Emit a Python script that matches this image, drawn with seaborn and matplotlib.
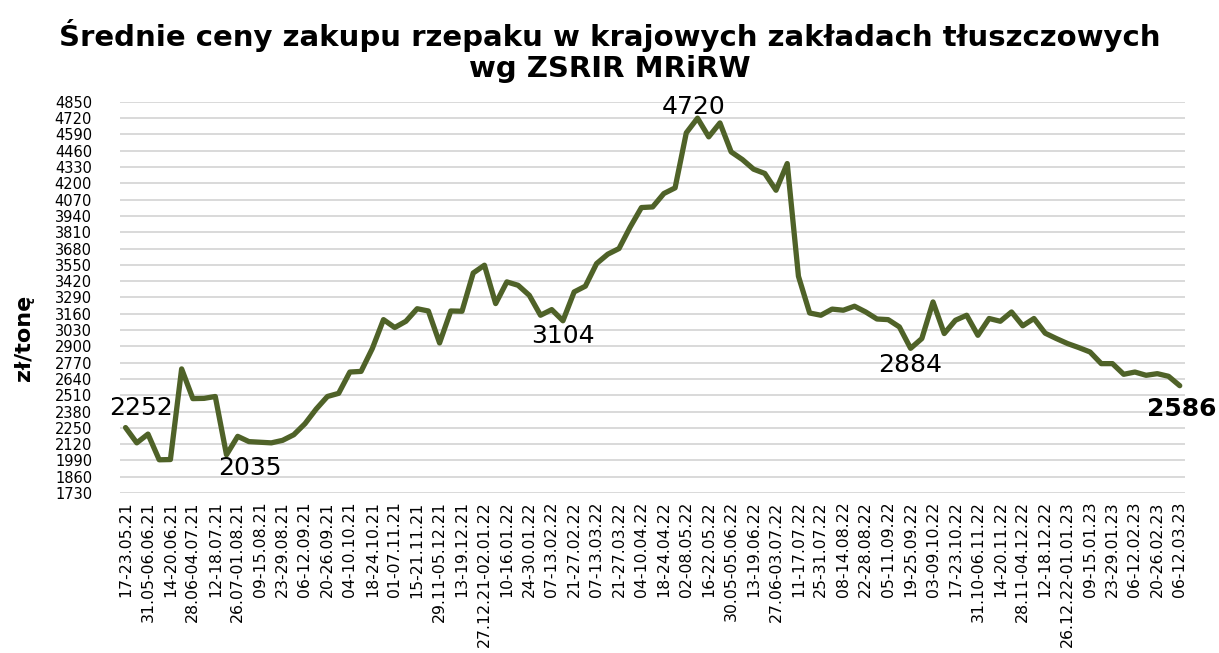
import numpy as np
import pandas as pd
import matplotlib
matplotlib.use("Agg")
import matplotlib.pyplot as plt
import seaborn as sns

# --- Data (weekly prices, zł/tonę) ---
prices = [
    2252, 2130, 2200, 1995, 1997, 2720, 2483, 2485, 2500, 2035,
    2182, 2140, 2135, 2130, 2150, 2195, 2283, 2400, 2500, 2525,
    2695, 2700, 2882, 3113, 3050, 3100, 3200, 3182, 2927, 3182,
    3180, 3485, 3547, 3241, 3414, 3387, 3307, 3148, 3193, 3104,
    3334, 3380, 3560, 3635, 3680, 3852, 4007, 4012, 4119, 4164,
    4603, 4720, 4571, 4682, 4451, 4390, 4313, 4279, 4145, 4358,
    3459, 3166, 3148, 3197, 3188, 3220, 3174, 3118, 3113, 3055,
    2884, 2962, 3254, 3002, 3108, 3148, 2988, 3122, 3100, 3174,
    3064, 3122, 3005, 2962, 2922, 2890, 2855, 2762, 2762, 2677,
    2695, 2669, 2682, 2661, 2586,
]

# labels shown on the axis (every second week)
week_labels = [
    "17-23.05.21", "31.05-06.06.21", "14-20.06.21", "28.06-04.07.21",
    "12-18.07.21", "26.07-01.08.21", "09-15.08.21", "23-29.08.21",
    "06-12.09.21", "20-26.09.21", "04-10.10.21", "18-24.10.21",
    "01-07.11.21", "15-21.11.21", "29.11-05.12.21", "13-19.12.21",
    "27.12.21-02.01.22", "10-16.01.22", "24-30.01.22", "07-13.02.22",
    "21-27.02.22", "07-13.03.22", "21-27.03.22", "04-10.04.22",
    "18-24.04.22", "02-08.05.22", "16-22.05.22", "30.05-05.06.22",
    "13-19.06.22", "27.06-03.07.22", "11-17.07.22", "25-31.07.22",
    "08-14.08.22", "22-28.08.22", "05-11.09.22", "19-25.09.22",
    "03-09.10.22", "17-23.10.22", "31.10-06.11.22", "14-20.11.22",
    "28.11-04.12.22", "12-18.12.22", "26.12.22-01.01.23", "09-15.01.23",
    "23-29.01.23", "06-12.02.23", "20-26.02.23", "06-12.03.23",
]

# annotated points: index -> (offset px x, offset px y, bold)
labelled = {0: (15, 20, False), 9: (23, -13, False), 39: (0, -15, False),
            51: (-4, 11, False), 70: (0, -17, False), 94: (2, -23, True)}

df = pd.DataFrame({"week": np.arange(len(prices)), "price": prices})

sns.set_style("white")
plt.rcParams["font.family"] = ["DejaVu Sans"]
plt.rcParams["text.color"] = "black"
plt.rcParams["xtick.color"] = "black"
plt.rcParams["ytick.color"] = "black"

fig = plt.figure(figsize=(12.19, 6.53), dpi=100)
ax = fig.add_axes([0.0984, 0.245, 0.874, 0.599])

yticks = np.arange(1730, 4851, 130)
for yt in yticks:
    ax.axhline(yt, color="#D9D9D9", lw=1.4, zorder=0)

sns.lineplot(data=df, x="week", y="price", ax=ax, color="#4F6228",
             lw=3.8, solid_joinstyle="round", solid_capstyle="round")

for i, (dx, dy, bold) in labelled.items():
    ax.annotate(str(prices[i]), (i, prices[i]), xytext=(dx * 0.72, dy * 0.72),
                textcoords="offset points", ha="center", va="center",
                fontsize=18, fontweight="bold" if bold else "normal",
                color="black")

ax.set_xlim(-0.5, len(prices) - 0.5)
ax.set_ylim(1730, 4850)
ax.set_yticks(yticks)
ax.set_yticklabels([str(v) for v in yticks], fontsize=10.5)
ax.set_xticks(np.arange(0, len(prices), 2))
ax.set_xticklabels(week_labels, rotation=90, fontsize=11.3)
ax.tick_params(axis="x", length=0, pad=6)
ax.tick_params(axis="y", length=0, pad=20)
ax.set_xlabel("")
ax.set_ylabel("")
for s in ax.spines.values():
    s.set_visible(False)

fig.text(0.5, 0.922, "Średnie ceny zakupu rzepaku w krajowych zakładach tłuszczowych\nwg ZSRIR MRiRW",
         ha="center", va="center", fontsize=21, fontweight="bold",
         linespacing=1.1)
fig.text(0.02, 0.482, "zł/tonę", rotation=90, ha="center", va="center",
         fontsize=16, fontweight="bold")

fig.savefig("out.png", dpi=100)
